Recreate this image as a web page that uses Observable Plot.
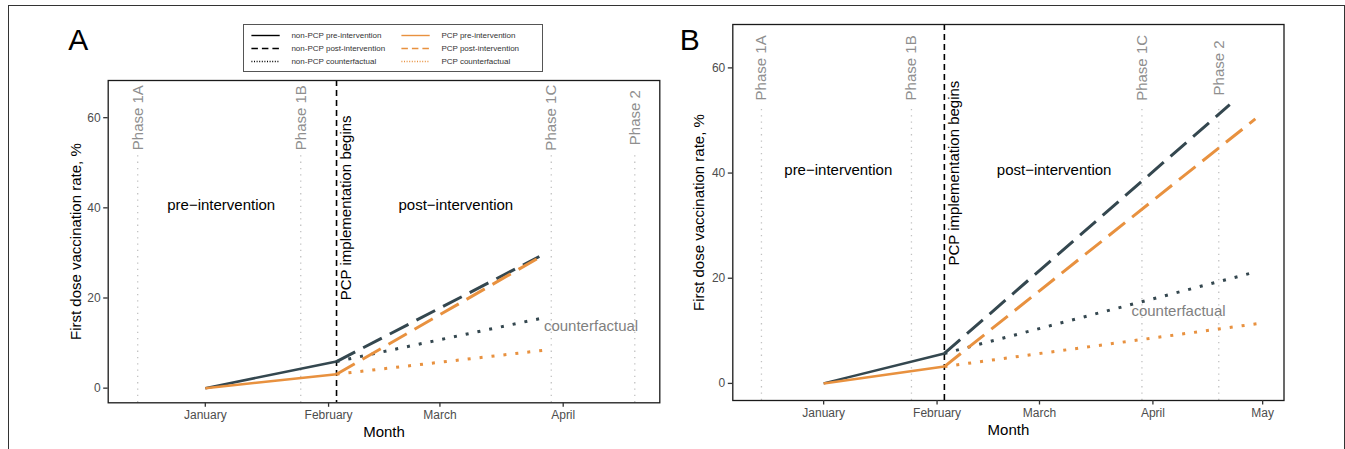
<!DOCTYPE html>
<html><head><meta charset="utf-8">
<script src="https://cdn.jsdelivr.net/npm/d3@7"></script>
<script src="https://cdn.jsdelivr.net/npm/@observablehq/plot@0.6"></script>
<style>
body{margin:0;background:#fff;overflow:hidden;}
#root{position:relative;width:1345px;height:449px;overflow:hidden;font-family:"Liberation Sans",Arial,Helvetica,sans-serif;background:#fff;}
#frame{position:absolute;left:8px;top:5px;width:1337px;height:470px;box-sizing:border-box;border:1px solid #333;pointer-events:none;z-index:5;}
.panel{position:absolute;top:0;}
#legend{position:absolute;left:243px;top:24px;z-index:4;}
</style></head><body>
<div id="root"><div id="frame"></div></div>
<script>
// ---------------- data ----------------
const monthTicksA = ["2021-01-01","2021-02-01","2021-03-01","2021-04-01"];
const monthTicksB = ["2021-01-01","2021-02-01","2021-03-01","2021-04-01","2021-05-01"];
const xDomainA = ["2020-12-07T14:00Z","2021-04-25T07:00Z"];
const xDomainB = ["2020-12-07T04:00Z","2021-05-06T20:00Z"];
const yTicks = [0, 20, 40, 60];
const yLimits = [0, 65];

const phaseNames = ["Phase 1A","Phase 1B","Phase 1C","Phase 2"];
const phaseDates = ["2020-12-15","2021-01-25","2021-03-29","2021-04-19"];
const phaseLabelValue = 60;
const phaseLineTopA = 51.6;
const phaseLineTopB = 52.8;

const interventionDate = "2021-02-03";
const interventionLabel = "PCP implementation begins";

const periodLabels = ["pre\u2212intervention","post\u2212intervention"];
const periodLabelDates = ["2021-01-05","2021-03-05"];
const periodLabelValue = 40.5;
const interventionLabelValue = 40;
const cfLabel = "counterfactual";
const cfLabelDate = "2021-04-08";
const cfLabelValue = 13.8;

// Panel A series: [date, first dose vaccination rate %]
const A_nonPCP_pre  = [["2021-01-01",0],["2021-02-03",5.9]];
const A_PCP_pre     = [["2021-01-01",0],["2021-02-03",3.1]];
const A_nonPCP_post = [["2021-02-03",5.9],["2021-03-26",29.2]];
const A_PCP_post    = [["2021-02-03",3.1],["2021-03-26",29.0]];
const A_nonPCP_cf   = [["2021-02-03",5.9],["2021-03-26",15.4]];
const A_PCP_cf      = [["2021-02-03",3.1],["2021-03-27",8.4]];

// Panel B series
const B_nonPCP_pre  = [["2021-01-01",0],["2021-02-03",5.7]];
const B_PCP_pre     = [["2021-01-01",0],["2021-02-03",3.2]];
const B_nonPCP_post = [["2021-02-03",5.7],["2021-04-22",53.0]];
const B_PCP_post    = [["2021-02-03",3.2],["2021-04-29",50.3]];
const B_nonPCP_cf   = [["2021-02-03",5.7],["2021-04-28",21.0]];
const B_PCP_cf      = [["2021-02-03",3.2],["2021-04-30",11.4]];

const legendLabels = [
  ["non-PCP pre-intervention","non-PCP post-intervention","non-PCP counterfactual"],
  ["PCP pre-intervention","PCP post-intervention","PCP counterfactual"]
];

// ---------------- styles ----------------
const DARK = "#34474f";
const ORANGE = "#e8913f";
const FONT = '"Liberation Sans",Arial,Helvetica,sans-serif';
const lineStyle = {
  pre:  {strokeWidth: 2.5},
  post: {strokeWidth: 3, strokeDasharray: "21,9"},
  cf:   {strokeWidth: 3, strokeDasharray: "3,9"}
};

const parse = d3.utcParse("%Y-%m-%d");
const rows = pairs => pairs.map(([d, v]) => ({date: parse(d), value: v}));

function expand([a, b], f = 0.05) { const r = b - a; return [a - r * f, b + r * f]; }

function makePanel(cfg) {
  const xDomain = cfg.xDomain.map(s => new Date(s));
  const yDomain = expand(yLimits);
  const phases = phaseNames.map((n, i) => ({name: n, date: parse(phaseDates[i])}));
  const marks = [
    Plot.ruleX(phases, {x: "date", y1: yDomain[0], y2: cfg.phaseLineTop, stroke: "#c2c2c2", strokeWidth: 1.3, strokeDasharray: "1.3,5"}),
    Plot.text(phases, {x: "date", y: phaseLabelValue, text: "name", rotate: -90, fill: "#8f8f8f", fontSize: 15}),
    Plot.ruleX([parse(interventionDate)], {stroke: "#000", strokeWidth: 1.6, strokeDasharray: "6,4"}),
    Plot.text([interventionLabel], {x: () => parse(interventionDate), y: () => interventionLabelValue, text: d => d, rotate: -90, dx: 9.5, fill: "#000", fontSize: 15}),
    Plot.text(periodLabels, {x: (d, i) => parse(periodLabelDates[i]), y: () => periodLabelValue, text: d => d, fill: "#000", fontSize: 15}),
    Plot.text([cfLabel], {x: () => parse(cfLabelDate), y: () => cfLabelValue, text: d => d, fill: "#7f7f7f", fontSize: 15}),
  ];
  for (const s of cfg.series) {
    marks.push(Plot.line(rows(s.data), {x: "date", y: "value", stroke: s.color, strokeLinecap: "butt", strokeLinejoin: "miter", ...lineStyle[s.kind]}));
  }
  marks.push(
    Plot.frame({stroke: "#1a1a1a", strokeWidth: 1.3}),
    Plot.axisX({ticks: cfg.ticks.map(parse), tickFormat: d3.utcFormat("%B"), tickSize: 4.5, tickPadding: 3, fontSize: 12, fill: "#4d4d4d", stroke: "#333", strokeWidth: 1.3, label: null}),
    Plot.axisY({ticks: yTicks, tickSize: 4.5, tickPadding: 3, fontSize: 12, fill: "#4d4d4d", stroke: "#333", strokeWidth: 1.3, label: null}),
    Plot.text(["Month"], {frameAnchor: "bottom", lineAnchor: "bottom", textAnchor: "middle", dy: 34.4, fontSize: 15, fill: "#000"}),
    Plot.text(["First dose vaccination rate, %"], {frameAnchor: "left", textAnchor: "middle", lineAnchor: "middle", rotate: -90, dx: cfg.yTitleDx, fontSize: 15, fill: "#000"}),
    Plot.text([cfg.tag], {frameAnchor: "top-left", lineAnchor: "bottom", textAnchor: "start", dx: cfg.tagDx, dy: cfg.tagDy, fontSize: 30, fill: "#000"})
  );
  const chart = Plot.plot({
    width: cfg.width, height: 449,
    marginLeft: cfg.ml, marginRight: cfg.mr, marginTop: cfg.mt, marginBottom: cfg.mb,
    x: {type: "utc", domain: xDomain},
    y: {domain: yDomain},
    style: {fontFamily: FONT, background: "transparent", overflow: "visible"},
    marks
  });
  chart.classList.add("panel");
  chart.style.left = cfg.left + "px";
  document.getElementById("root").appendChild(chart);
}

makePanel({
  tag: "A", left: 0, width: 670, ml: 107.7, mr: 10.7, mt: 80, mb: 46.7, xDomain: xDomainA,
  ticks: monthTicksA, phaseLineTop: phaseLineTopA, yTitleDx: -32, tagDx: -40, tagDy: -31,
  series: [
    {data: A_nonPCP_pre, color: DARK, kind: "pre"},
    {data: A_PCP_pre, color: ORANGE, kind: "pre"},
    {data: A_nonPCP_cf, color: DARK, kind: "cf"},
    {data: A_PCP_cf, color: ORANGE, kind: "cf"},
    {data: A_nonPCP_post, color: DARK, kind: "post"},
    {data: A_PCP_post, color: ORANGE, kind: "post"}
  ]
});
makePanel({
  tag: "B", left: 670, width: 675, ml: 62.3, mr: 61.5, mt: 24, mb: 49, xDomain: xDomainB,
  ticks: monthTicksB, phaseLineTop: phaseLineTopB, yTitleDx: -33.3, tagDx: -53, tagDy: 25.3,
  series: [
    {data: B_nonPCP_pre, color: DARK, kind: "pre"},
    {data: B_PCP_pre, color: ORANGE, kind: "pre"},
    {data: B_nonPCP_cf, color: DARK, kind: "cf"},
    {data: B_PCP_cf, color: ORANGE, kind: "cf"},
    {data: B_nonPCP_post, color: DARK, kind: "post"},
    {data: B_PCP_post, color: ORANGE, kind: "post"}
  ]
});

// ---------------- legend ----------------
(function legend() {
  const W = 300, H = 48;
  const svg = d3.select("#root").append("svg").attr("id", "legend").attr("width", W).attr("height", H)
    .style("font-family", FONT);
  svg.append("rect").attr("x", 0.5).attr("y", 0.5).attr("width", W - 1).attr("height", H - 1)
    .attr("fill", "#fff").attr("stroke", "#555").attr("stroke-width", 1);
  const colColors = ["#000", ORANGE];
  const keyDash = [null, "6.5,4", "1,1.6"];
  const colX = [8.4, 158.4], rowY = [11.5, 24.5, 37.5];
  legendLabels.forEach((col, ci) => col.forEach((lab, ri) => {
    const y = rowY[ri], x = colX[ci];
    const l = svg.append("line").attr("x1", x).attr("x2", x + 28.3).attr("y1", y).attr("y2", y)
      .attr("stroke", colColors[ci]).attr("stroke-width", 1.4);
    if (keyDash[ri]) l.attr("stroke-dasharray", keyDash[ri]);
    svg.append("text").attr("x", x + 40).attr("y", y).attr("dy", "0.33em")
      .attr("font-size", 8).attr("fill", "#333").text(lab);
  }));
})();
</script>
</body></html>
